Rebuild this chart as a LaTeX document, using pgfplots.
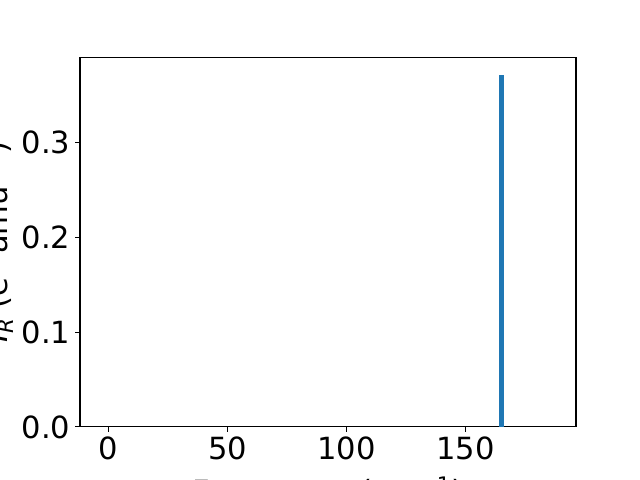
\documentclass[border=0pt]{standalone}
\usepackage{pgfplots}
\pgfplotsset{compat=1.18}
\usepackage{fontspec}
\setmainfont{DejaVu Sans}
\definecolor{tabblue}{HTML}{1F77B4}
\begin{document}
\begin{tikzpicture}
\path[use as bounding box] (0,0) rectangle (460.8pt,345.6pt);
\clip (0,0) rectangle (460.8pt,345.6pt);
\begin{axis}[
  at={(57.6pt,38.2pt)}, anchor=south west,
  scale only axis, width=357.1pt, height=265.7pt,
  xmin=-12, xmax=196.4, ymin=0, ymax=0.3897,
  xtick={0,50,100,150}, ytick={0,0.1,0.2,0.3},
  yticklabel style={/pgf/number format/fixed, /pgf/number format/fixed zerofill, /pgf/number format/precision=1},
  /pgf/number format/assume math mode=true,
  tick align=outside, xtick pos=left, ytick pos=left,
  major tick length=3.5pt,
  every tick/.style={black, line width=0.8pt},
  axis line style={line width=0.8pt},
  ticklabel style={font=\fontsize{22}{26}\selectfont},
  scaled y ticks=false,
  xlabel={Frequency (cm\textsuperscript{−1})},
  ylabel={\textit{I}\textsubscript{\textit{R}} (e\textsuperscript{2} amu\textsuperscript{−1})},
  label style={font=\fontsize{22}{26}\selectfont, inner sep=0pt},
  xlabel style={at={(axis description cs:0.5,0)}, anchor=base, yshift=-54.5pt},
  ylabel style={at={(axis description cs:0,0.5)}, anchor=base, yshift=52pt},
]
\addplot[ybar, bar width=2.1, bar shift=0pt, fill=tabblue, draw=none] coordinates {(165.1,0.3717)};
\end{axis}
\end{tikzpicture}
\end{document}
